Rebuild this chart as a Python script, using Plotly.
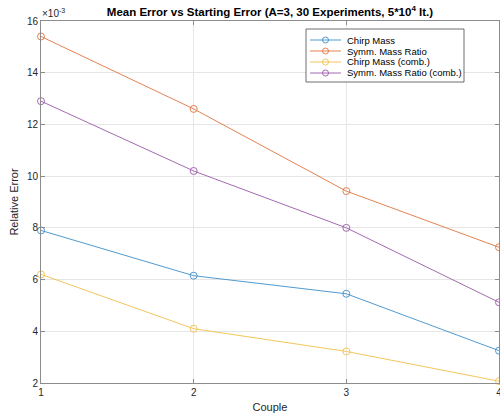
import plotly.graph_objects as go

# Mean relative error (in units of 1e-3) per couple
couples = [1, 2, 3, 4]
chirp_mass = [7.9, 6.15, 5.45, 3.25]
symm_mass_ratio = [15.4, 12.6, 9.42, 7.25]
chirp_mass_comb = [6.2, 4.1, 3.22, 2.07]
symm_mass_ratio_comb = [12.9, 10.2, 8.0, 5.12]

series_names = ["Chirp Mass", "Symm. Mass Ratio", "Chirp Mass (comb.)", "Symm. Mass Ratio (comb.)"]
series_values = [chirp_mass, symm_mass_ratio, chirp_mass_comb, symm_mass_ratio_comb]
colors = ["#3d8fca", "#e0743f", "#f0c04a", "#9a58a8"]

y_ticks = [2, 4, 6, 8, 10, 12, 14, 16]
x_ticks = [1, 2, 3, 4]

W, H = 500, 419
L, R, T, B = 41, 1, 21, 36
PW, PH = W - L - R, H - T - B

font_family = "Liberation Sans, Arial, Helvetica, sans-serif"
text_color = "#262626"
axis_color = "#8c8c8c"

fig = go.Figure()
for name, vals, col in zip(series_names, series_values, colors):
    fig.add_trace(go.Scatter(
        x=couples, y=vals, name=name, mode="lines+markers",
        line=dict(color=col, width=0.9),
        marker=dict(symbol="circle-open", size=7, color=col, line=dict(width=0.9, color=col)),
        cliponaxis=False, showlegend=False,
    ))


def px_x(p):
    return (p - L) / PW


def px_y(p):
    return (H - B - p) / PH


# Legend box drawn with shapes and text
shapes = [dict(type="rect", xref="paper", yref="paper",
               x0=px_x(306), x1=px_x(464), y0=px_y(82), y1=px_y(29),
               line=dict(color="#4a4a4a", width=0.8), fillcolor="white", layer="above")]
annotations = []
row_y = [40, 51, 62, 73]
for name, col, ry in zip(series_names, colors, row_y):
    shapes.append(dict(type="line", xref="paper", yref="paper",
                       x0=px_x(310), x1=px_x(341), y0=px_y(ry), y1=px_y(ry),
                       line=dict(color=col, width=0.9), layer="above"))
    shapes.append(dict(type="circle", xref="paper", yref="paper",
                       x0=px_x(322.5), x1=px_x(328.5), y0=px_y(ry + 3), y1=px_y(ry - 3),
                       line=dict(color=col, width=0.9), fillcolor="rgba(0,0,0,0)", layer="above"))
    annotations.append(dict(xref="paper", yref="paper", x=px_x(345), y=px_y(ry),
                            xanchor="left", yanchor="middle", text=name, showarrow=False,
                            font=dict(size=9.5, color="#000000", family=font_family)))

# Exponent marker for the y axis
annotations.append(dict(xref="paper", yref="paper", x=px_x(40), y=px_y(13),
                        xanchor="left", yanchor="middle", showarrow=False,
                        text="\u00d710<sup>-3</sup>",
                        font=dict(size=10, color=text_color, family=font_family)))

fig.update_layout(
    width=W, height=H,
    margin=dict(l=L, r=R, t=T, b=B, autoexpand=False),
    paper_bgcolor="white", plot_bgcolor="white",
    font=dict(family=font_family, color=text_color, size=10),
    title=dict(text="<b>Mean Error vs Starting Error (A=3, 30 Experiments, 5*10<sup>4</sup> It.)</b>",
               x=(L + PW / 2) / W, xanchor="center", y=1 - 12 / H, yanchor="middle",
               font=dict(size=11.5, color="#000000", family=font_family)),
    xaxis=dict(range=[1, 4], tickvals=x_ticks, ticktext=[str(v) for v in x_ticks],
               showgrid=True, gridcolor="#e6e6e6", gridwidth=1,
               showline=True, linecolor=axis_color, linewidth=1, mirror="ticks",
               ticks="inside", ticklen=4, tickcolor=axis_color, zeroline=False,
               ticklabeloverflow="allow",
               tickfont=dict(size=10, color=text_color),
               title=dict(text="Couple", font=dict(size=11, color=text_color), standoff=6)),
    yaxis=dict(range=[2, 16], tickvals=y_ticks, ticktext=[str(v) for v in y_ticks],
               showgrid=True, gridcolor="#e6e6e6", gridwidth=1,
               showline=True, linecolor=axis_color, linewidth=1, mirror="ticks",
               ticks="inside", ticklen=4, tickcolor=axis_color, zeroline=False,
               ticklabeloverflow="allow",
               tickfont=dict(size=10, color=text_color),
               title=dict(text="Relative Error", font=dict(size=11, color=text_color), standoff=6)),
    shapes=shapes, annotations=annotations,
)

fig.write_html("out.html")
